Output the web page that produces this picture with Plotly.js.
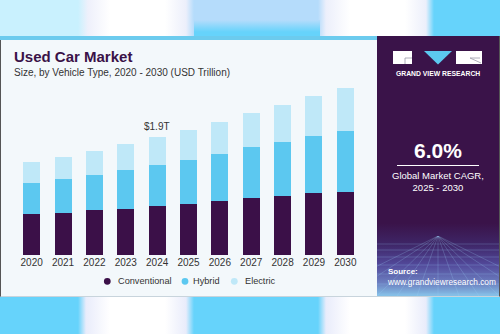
<!DOCTYPE html>
<html>
<head>
<meta charset="utf-8">
<script src="https://cdn.plot.ly/plotly-3.0.1.min.js"></script>
<style>
  html, body { margin:0; padding:0; width:500px; height:334px; overflow:hidden; }
  body { position:relative;
    background: linear-gradient(to right,
      #66d3fb 0px, #66d3fb 78px, #e9ecfb 86px, #ffffff 110px, #ffffff 165px, #e9ecfb 186px,
      #66d3fb 194px, #66d3fb 318px, #e9ecfb 326px, #ffffff 350px, #ffffff 405px, #e9ecfb 426px,
      #66d3fb 434px, #66d3fb 500px);
  }
  #topband { position:absolute; left:0; top:0; width:500px; height:37px;
    background: linear-gradient(to right,
      #c9f1fe 0px, #c9f1fe 78px, #eef0fb 88px, #ffffff 110px, #ffffff 165px, #eceffb 186px,
      #b5dcfb 194px, #b5dcfb 318px, #eceffb 326px, #ffffff 350px, #ffffff 405px, #eceffb 426px,
      #66d3fb 434px, #66d3fb 500px);
  }
  #topband2 { position:absolute; left:194px; top:20px; width:126px; height:17px;
    background: linear-gradient(to bottom, #b5dcfb 0%, #66d3fb 70%, #66d3fb 100%); }
  #card { position:absolute; left:0; top:36px; width:498px; height:260px;
    background:#f3f8fb; border-left:1px solid #555; border-right:1px solid #555; border-bottom:1px solid #c8d4dc; }
  #cardtop { position:absolute; left:0; top:36px; width:378px; height:4px; background:#6ccbee; }
  #panel { position:absolute; left:377px; top:36px; width:122px; height:260px;
    background: linear-gradient(to bottom, #3a1349 0%, #3a1349 72%, #3e2566 80%, #52499a 88%, #6c7fc0 95%, #86c2e8 100%); }
  #grid { position:absolute; left:377px; top:236px; width:122px; height:60px; }
  #plot { position:absolute; left:0; top:0; width:500px; height:334px; }
</style>
</head>
<body>
<div id="topband"></div>
<div id="topband2"></div>
<div id="card"></div>
<div id="cardtop"></div>
<div id="panel"></div>
<svg id="grid" width="122" height="60" viewBox="0 0 122 60">
  <g stroke="#9fd0f5" stroke-opacity="0.4" stroke-width="0.6" fill="none">
    <line x1="0" y1="8" x2="122" y2="8"/>
    <line x1="0" y1="14" x2="122" y2="14"/>
    <line x1="0" y1="21" x2="122" y2="21"/>
    <line x1="0" y1="29" x2="122" y2="29"/>
    <line x1="0" y1="38" x2="122" y2="38"/>
    <line x1="0" y1="48" x2="122" y2="48"/>
    <line x1="0" y1="58" x2="122" y2="58"/>
    <line x1="61" y1="0" x2="-60" y2="60"/>
    <line x1="61" y1="0" x2="-30" y2="60"/>
    <line x1="61" y1="0" x2="0" y2="60"/>
    <line x1="61" y1="0" x2="20" y2="60"/>
    <line x1="61" y1="0" x2="40" y2="60"/>
    <line x1="61" y1="0" x2="61" y2="60"/>
    <line x1="61" y1="0" x2="82" y2="60"/>
    <line x1="61" y1="0" x2="102" y2="60"/>
    <line x1="61" y1="0" x2="122" y2="60"/>
    <line x1="61" y1="0" x2="152" y2="60"/>
    <line x1="61" y1="0" x2="182" y2="60"/>
  </g>
</svg>
<div id="plot"></div>
<script>
// ---- data ----
const years = ['2020','2021','2022','2023','2024','2025','2026','2027','2028','2029','2030'];
const conventional = [0.66, 0.68, 0.73, 0.75, 0.79, 0.83, 0.88, 0.92, 0.96, 1.00, 1.02];
const hybrid       = [0.51, 0.55, 0.57, 0.62, 0.66, 0.70, 0.75, 0.82, 0.87, 0.93, 0.99];
const electric     = [0.34, 0.36, 0.38, 0.42, 0.45, 0.49, 0.52, 0.56, 0.60, 0.64, 0.69];
const seriesNames  = ['Conventional', 'Hybrid', 'Electric'];
const seriesColors = ['#3b1048', '#5cc8f0', '#bfe8f8'];
const calloutYear  = '2024';
const calloutText  = '$1.9T';
const titleText    = 'Used Car Market';
const subtitleText = 'Size, by Vehicle Type, 2020 - 2030 (USD Trillion)';
const cagrValue    = '6.0%';
const cagrLabel    = 'Global Market CAGR,<br>2025 - 2030';

// ---- geometry helpers (pixel -> paper) ----
const L = 16, T = 80, W = 345, H = 175;
const X = x => (x - L) / W;
const Y = y => (T + H - y) / H;
const FONT = 'Liberation Sans, Arial, sans-serif';

const seriesValues = [conventional, hybrid, electric];
const traces = seriesValues.map((vals, i) => ({
  type: 'bar', x: years.slice(), y: vals.slice(), name: seriesNames[i],
  marker: { color: seriesColors[i] },
  showlegend: false
}));

const totals = years.map((_, i) => conventional[i] + hybrid[i] + electric[i]);
const ci = years.indexOf(calloutYear);

const annotations = [
  { xref:'paper', yref:'paper', x:X(12), y:Y(56.5), xanchor:'left', yanchor:'middle', showarrow:false,
    text:'<b>' + titleText + '</b>', font:{ family:FONT, size:15, color:'#3a1248' } },
  { xref:'paper', yref:'paper', x:X(12), y:Y(72.7), xanchor:'left', yanchor:'middle', showarrow:false,
    text:subtitleText, font:{ family:FONT, size:10, color:'#333333' } },
  { xref:'x', yref:'y', x:ci, y:totals[ci], yshift:3, xanchor:'center', yanchor:'bottom', showarrow:false,
    text:calloutText, font:{ family:FONT, size:10, color:'#333333' } },
  { xref:'paper', yref:'paper', x:X(438), y:Y(73.5), xanchor:'center', yanchor:'middle', showarrow:false,
    text:'<b>GRAND VIEW RESEARCH</b>', font:{ family:FONT, size:6.8, color:'#ffffff' } },
  { xref:'paper', yref:'paper', x:X(438), y:Y(150.5), xanchor:'center', yanchor:'middle', showarrow:false,
    text:'<b>' + cagrValue + '</b>', font:{ family:FONT, size:21, color:'#ffffff' } },
  { xref:'paper', yref:'paper', x:X(438), y:Y(181.5), xanchor:'center', yanchor:'middle', showarrow:false,
    text:cagrLabel, font:{ family:FONT, size:9.5, color:'#ffffff' } },
  { xref:'paper', yref:'paper', x:X(386), y:Y(271.7), xanchor:'left', yanchor:'middle', showarrow:false,
    text:'<b>Source:</b>', font:{ family:FONT, size:8, color:'#ffffff' } },
  { xref:'paper', yref:'paper', x:X(385), y:Y(281.7), xanchor:'left', yanchor:'middle', showarrow:false,
    text:'www.grandviewresearch.com', font:{ family:FONT, size:8.3, color:'#ffffff' } }
];

const legendMarkX = [107.3, 185, 234.3];
const legendTextX = [115.5, 190.5, 243];
const legendY = 281.3;
const shapes = [];
seriesNames.forEach((n, i) => {
  shapes.push({ type:'circle', xref:'paper', yref:'paper', layer:'above',
    x0:X(legendMarkX[i]-3.4), x1:X(legendMarkX[i]+3.4), y0:Y(legendY+3.4), y1:Y(legendY-3.4),
    fillcolor:seriesColors[i], line:{ width:0 } });
  annotations.push({ xref:'paper', yref:'paper', x:X(legendTextX[i]), y:Y(legendY), xanchor:'left', yanchor:'middle',
    showarrow:false, text:n, font:{ family:FONT, size:9.2, color:'#333333' } });
});

shapes.push({ type:'rect', xref:'paper', yref:'paper', layer:'above', x0:X(393), x1:X(412), y0:Y(64), y1:Y(51),
  fillcolor:'#ffffff', line:{ width:0 } });
shapes.push({ type:'path', xref:'paper', yref:'paper', layer:'above',
  path:`M ${X(405)},${Y(64)} L ${X(405)},${Y(58)} L ${X(412)},${Y(58)}`, line:{ color:'#9a9aa8', width:0.8 } });
shapes.push({ type:'path', xref:'paper', yref:'paper', layer:'above',
  path:`M ${X(424)},${Y(51)} L ${X(452)},${Y(51)} L ${X(438)},${Y(64.5)} Z`, fillcolor:'#5cc8f0', line:{ width:0 } });
shapes.push({ type:'rect', xref:'paper', yref:'paper', layer:'above', x0:X(456), x1:X(482), y0:Y(64), y1:Y(51),
  fillcolor:'#ffffff', line:{ width:0 } });
shapes.push({ type:'path', xref:'paper', yref:'paper', layer:'above',
  path:`M ${X(470)},${Y(58)} L ${X(480)},${Y(58)} M ${X(470)},${Y(58)} L ${X(481)},${Y(63)}`, line:{ color:'#9a9aa8', width:0.8 } });
shapes.push({ type:'line', xref:'paper', yref:'paper', layer:'above', x0:X(397), x1:X(479), y0:Y(165.5), y1:Y(165.5),
  line:{ color:'#ffffff', width:1 } });

const layout = {
  width:500, height:334,
  margin:{ l:L, r:500-L-W, t:T, b:334-T-H, pad:0 },
  paper_bgcolor:'rgba(0,0,0,0)', plot_bgcolor:'rgba(0,0,0,0)',
  barmode:'stack', bargap:0.46,
  showlegend:false,
  xaxis:{ type:'category', categoryorder:'array', categoryarray:years, range:[-0.5, years.length-0.5],
    showgrid:false, zeroline:false, showline:false, ticks:'',
    tickfont:{ family:FONT, size:10, color:'#333333' } },
  yaxis:{ range:[0, H/61.9], visible:false },
  annotations, shapes,
  font:{ family:FONT }
};

Plotly.newPlot('plot', traces, layout, { staticPlot:true, displayModeBar:false });
</script>
</body>
</html>
